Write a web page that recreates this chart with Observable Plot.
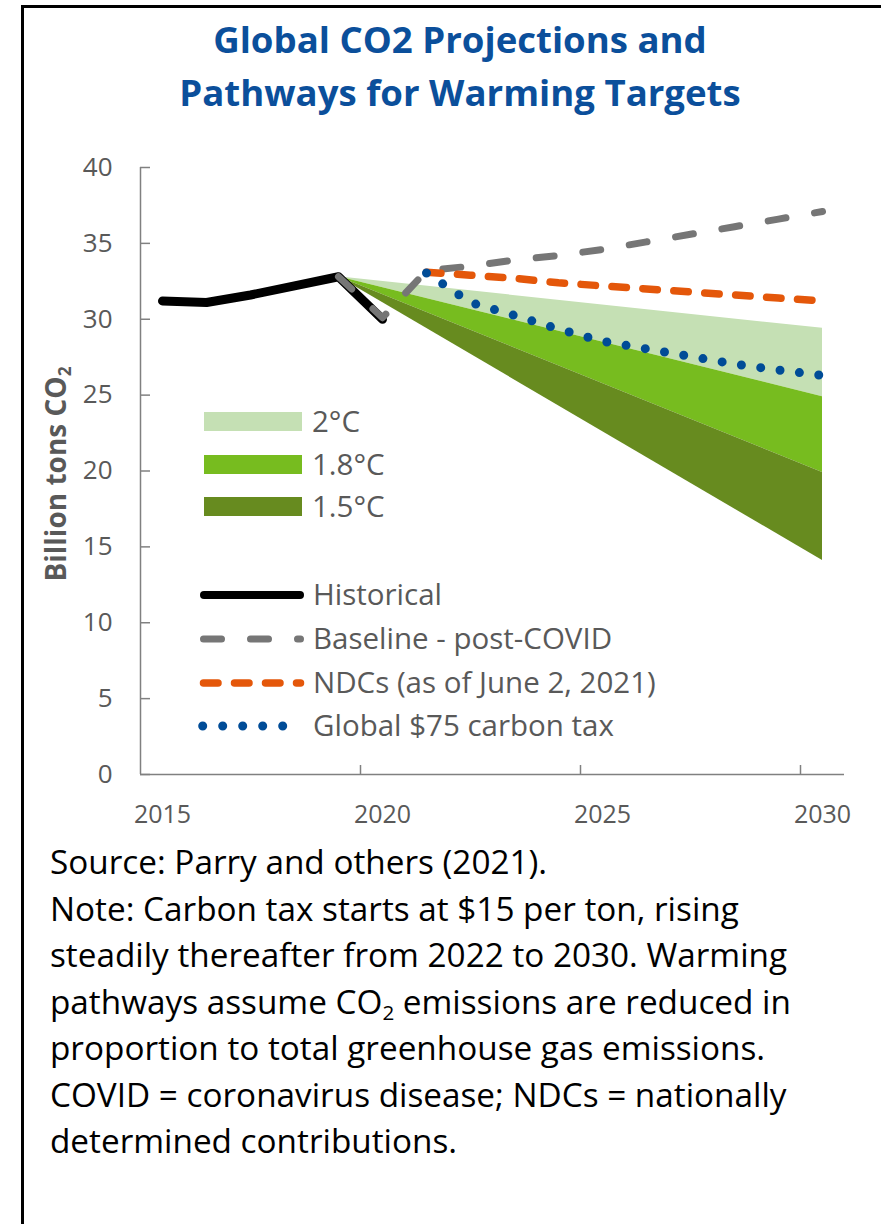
<!DOCTYPE html>
<html>
<head>
<meta charset="utf-8">
<script src="https://cdn.jsdelivr.net/npm/d3@7"></script>
<script src="https://cdn.jsdelivr.net/npm/@observablehq/plot@0.6"></script>
<style>
  body { margin: 0; background: #fff; }
  #wrap { position: relative; width: 881px; height: 1224px; overflow: hidden; background: #fff; font-family: "Open Sans", sans-serif; }
  #border { position: absolute; left: 21px; top: 5px; right: -20px; bottom: -20px; border-left: 3px solid #000; border-top: 3px solid #000; }
  #title { position: absolute; left: 0; width: 920px; top: 13px; text-align: center; color: #0b4f9b; font-weight: 700; font-size: 36.6px; line-height: 53px; }
  #chart { position: absolute; left: 0; top: 130px; }
  #ylabel { position: absolute; left: 55px; top: 474px; transform: translate(-50%, -50%) rotate(-90deg); white-space: nowrap; font-weight: 700; font-size: 28px; color: #595959; }
  #ylabel sub, #notes sub { font-size: 62%; vertical-align: -0.3em; line-height: 0; }
  #legend { position: absolute; left: 0; top: 0; }
  #notes { position: absolute; left: 50px; top: 838px; font-size: 33.3px; line-height: 46.5px; color: #000; white-space: nowrap; }
</style>
</head>
<body>
<div id="wrap">
  <div id="border"></div>
  <div id="title">Global CO2 Projections and<br>Pathways for Warming Targets</div>
  <div id="chart"></div>
  <div id="ylabel">Billion tons CO<sub>2</sub></div>
  <svg id="legend" width="881" height="1224"></svg>
  <div id="notes">Source: Parry and others (2021).<br>Note: Carbon tax starts at $15 per ton, rising<br>steadily thereafter from 2022 to 2030. Warming<br>pathways assume CO<sub>2</sub> emissions are reduced in<br>proportion to total greenhouse gas emissions.<br>COVID = coronavirus disease; NDCs = nationally<br>determined contributions.</div>
</div>
<script>
// ---- data ----
const histYears = [2015, 2016, 2017, 2018, 2019, 2020];
const historical = [31.2, 31.1, 31.6, 32.2, 32.8, 30.0];

const baselineYears = [2019, 2020, 2021, 2022, 2023, 2024, 2025, 2026, 2027, 2028, 2029, 2030];
const baseline = [32.8, 30.1, 33.2, 33.5, 33.9, 34.2, 34.6, 35.1, 35.6, 36.1, 36.6, 37.1];

const ndcYears = [2021, 2022, 2023, 2024, 2025, 2026, 2027, 2028, 2029, 2030];
const ndc = [33.1, 32.9, 32.7, 32.4, 32.2, 32.0, 31.8, 31.6, 31.4, 31.2];

const taxYears = [2021, 2022, 2023, 2024, 2025, 2026, 2027, 2028, 2029, 2030];
const carbonTax = [33.05, 31.1, 30.25, 29.35, 28.55, 28.05, 27.55, 27.05, 26.65, 26.3];

const bandYears = [2019, 2030];
const band2Top = [32.8, 29.4];
const band18Top = [32.8, 24.9];
const band15Top = [32.8, 19.9];
const band15Bottom = [32.8, 14.1];

const xTickLabels = [2015, 2020, 2025, 2030];
const yTicks = [0, 5, 10, 15, 20, 25, 30, 35, 40];

const bandNames = ["2°C", "1.8°C", "1.5°C"];
const bandColors = ["#c5e0b4", "#77bc1f", "#678b1f"];
const lineNames = ["Historical", "Baseline - post-COVID", "NDCs (as of June 2, 2021)", "Global $75 carbon tax"];
const lineColors = ["#000000", "#767676", "#e4570a", "#004c97"];

// ---- tables ----
const rows = (xs, vs) => xs.map((year, i) => ({year, value: vs[i]}));
const histRows = rows(histYears, historical);
const baseRows = rows(baselineYears, baseline);
const ndcRows = rows(ndcYears, ndc);
const taxRows = rows(taxYears, carbonTax);
const bandRows = bandYears.map((year, i) => ({year, t2: band2Top[i], t18: band18Top[i], t15: band15Top[i], b15: band15Bottom[i]}));
const xTickMarks = xTickLabels.slice(1).map(d => d - 0.5);
const xDomain = [xTickLabels[0] - 0.5, xTickLabels[xTickLabels.length - 1] + 0.5];

// ---- styles ----
const W = 881, H = 710, mL = 140, mR = 37, mT = 37, mB = 66;
const axisColor = "#808080";
const lineStyles = [
  {strokeWidth: 9, dash: null},
  {strokeWidth: 7, dash: "18,29"},
  {strokeWidth: 7.5, dash: "14.5,16.5"},
  {strokeWidth: 9, dash: "0,19.5"}
];
const lineData = [histRows, baseRows, ndcRows, taxRows];

const chart = Plot.plot({
  width: W, height: H,
  marginLeft: mL, marginRight: mR, marginTop: mT, marginBottom: mB,
  x: {domain: xDomain},
  y: {domain: [0, 40]},
  style: {fontFamily: "'Open Sans', sans-serif", background: "transparent", overflow: "visible"},
  marks: [
    Plot.areaY(bandRows, {x: "year", y1: "t18", y2: "t2", fill: bandColors[0]}),
    Plot.areaY(bandRows, {x: "year", y1: "t15", y2: "t18", fill: bandColors[1]}),
    Plot.areaY(bandRows, {x: "year", y1: "b15", y2: "t15", fill: bandColors[2]}),
    Plot.ruleY([0], {stroke: axisColor, strokeWidth: 1.5}),
    Plot.ruleX([xDomain[0]], {stroke: axisColor, strokeWidth: 1.5}),
    Plot.tickY(yTicks, {y: d => d, insetRight: W - mL - mR - 10, stroke: axisColor, strokeWidth: 1.5}),
    Plot.tickX(xTickMarks, {x: d => d, insetTop: H - mT - mB - 9, stroke: axisColor, strokeWidth: 1.5}),
    Plot.axisY(yTicks, {tickSize: 0, tickPadding: 28, fontSize: 26, fill: "#595959", label: null}),
    Plot.axisX(xTickLabels, {tickSize: 0, tickPadding: 31, fontSize: 25, fill: "#595959", label: null, tickFormat: d => String(d)}),
    ...lineData.map((data, i) => Plot.line(data, {
      x: "year", y: "value", stroke: lineColors[i],
      strokeWidth: lineStyles[i].strokeWidth,
      strokeDasharray: lineStyles[i].dash,
      strokeLinecap: "round", strokeLinejoin: "round"
    }))
  ]
});
document.getElementById("chart").appendChild(chart);

// ---- legend (inside plot area) ----
const leg = d3.select("#legend");
const bandY = [412, 455, 497];
bandNames.forEach((name, i) => {
  leg.append("rect").attr("x", 204).attr("y", bandY[i]).attr("width", 98).attr("height", 19).attr("fill", bandColors[i]);
  leg.append("text").attr("x", 312).attr("y", bandY[i] + 9.5).attr("dy", "0.35em")
    .attr("font-family", "'Open Sans', sans-serif").attr("font-size", 29.5).attr("fill", "#595959").text(name);
});
const lineY = [595, 639, 683, 726];
const lineX = [[204, 300], [203.5, 300.5], [203.5, 300.5], [202.7, 282.7]];
const legWidths = [8, 7, 7.5, 9];
lineNames.forEach((name, i) => {
  leg.append("line").attr("x1", lineX[i][0]).attr("x2", lineX[i][1]).attr("y1", lineY[i]).attr("y2", lineY[i])
    .attr("stroke", lineColors[i]).attr("stroke-width", legWidths[i]).attr("stroke-linecap", "round")
    .attr("stroke-dasharray", i === 3 ? "0,20" : lineStyles[i].dash);
  leg.append("text").attr("x", 313).attr("y", lineY[i]).attr("dy", "0.35em")
    .attr("font-family", "'Open Sans', sans-serif").attr("font-size", 29.5).attr("fill", "#595959").text(name);
});
</script>
</body>
</html>
